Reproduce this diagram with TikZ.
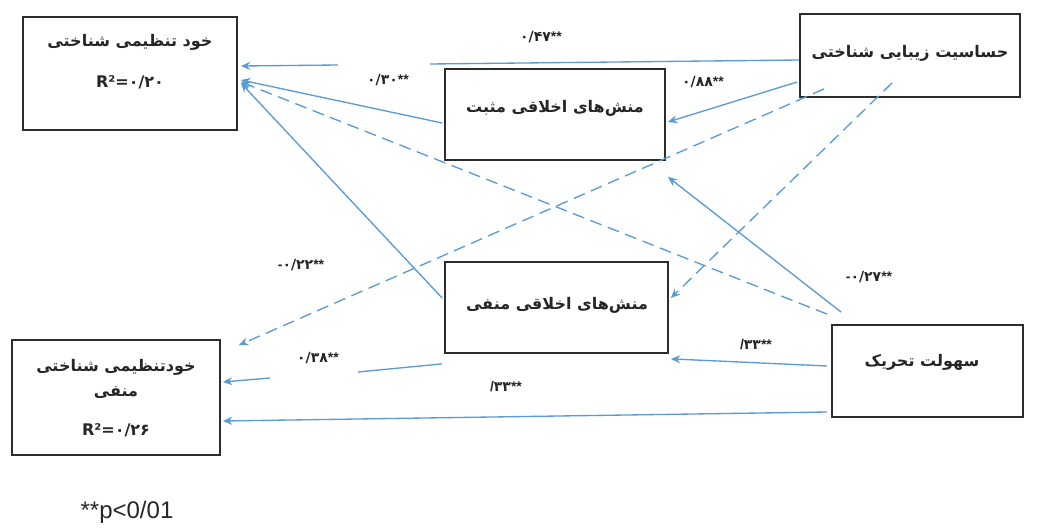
\documentclass[tikz,border=0pt]{standalone}
\usepackage{fontspec}
\setmainfont{Liberation Sans}
\newfontfamily\fa[Script=Arabic]{DejaVu Sans}
\TeXXeTstate=1
\usetikzlibrary{arrows.meta}
\definecolor{lnblue}{RGB}{91,155,213}
\definecolor{boxgray}{RGB}{45,45,45}
\newcommand{\cf}[3]{{\rmfamily\bfseries #1}{\fa #2}{\rmfamily\bfseries #3}}
\begin{document}
\begin{tikzpicture}[x=0.75pt,y=-0.75pt,
  box/.style={draw=boxgray,line width=1.3pt,inner sep=0pt},
  ftxt/.style={font=\fa\bfseries\fontsize{12}{14}\selectfont,inner sep=0pt,text=black!85},
  coef/.style={font=\bfseries\fontsize{10.5}{12}\selectfont,inner sep=0pt,text=black!85},
  link/.style={draw=lnblue,line width=1pt,-{Stealth[length=7pt,width=6pt]}},
  plainlink/.style={draw=lnblue,line width=1pt},
  dlink/.style={link,dash pattern=on 9pt off 5pt}]
\fill[white] (0,0) rectangle (1040,529);
\useasboundingbox (0,0) rectangle (1040,529);

% boxes
\node[box,minimum width=160.5pt,minimum height=84.75pt] (A) at (130,73.5) {};
\node[box,minimum width=165pt,minimum height=68.25pt] (B) at (555,114.5) {};
\node[box,minimum width=165pt,minimum height=62.25pt] (C) at (910,55.5) {};
\node[box,minimum width=167.25pt,minimum height=68.25pt] (D) at (556.5,307.5) {};
\node[box,minimum width=156pt,minimum height=86.25pt] (E) at (116,397.5) {};
\node[box,minimum width=143.25pt,minimum height=69pt] (F) at (927.5,371) {};

% box texts
\node[ftxt] (At1) at (130,42) {\beginR خود تنظیمی شناختی\endR};
\node[ftxt] (At2) at (130,82) {R²=۰/۲۰};
\node[ftxt] (Bt) at (555,108) {\beginR منش‌های اخلاقی مثبت\endR};
\node[ftxt] (Ct) at (910,53) {\beginR حساسیت زیبایی شناختی\endR};
\node[ftxt] (Dt) at (557,305) {\beginR منش‌های اخلاقی منفی\endR};
\node[ftxt] (Et1) at (116,367) {\beginR خودتنظیمی شناختی\endR};
\node[ftxt] (Et2) at (116,392) {\beginR منفی\endR};
\node[ftxt] (Et3) at (116,430) {R²=۰/۲۶};
\node[ftxt] (Ft) at (922,362) {\beginR سهولت تحریک\endR};

% gap coordinates
\coordinate (g1) at (430,64);
\coordinate (g2) at (338,65);
\coordinate (g3) at (358,372);
\coordinate (g4) at (270,378);

% connectors
\draw[plainlink] ([shift={(0,4.5)}]C.west) -- (g1);
\draw[link] (g2) -- ([shift={(3,-7.5)}]A.east);
\draw[link] ([shift={(-2,26.5)}]C.west) -- ([shift={(2,7.5)}]B.east);
\draw[dlink] ([shift={(25,-9)}]C.south west) -- ([shift={(18,6)}]E.north east);
\draw[dlink] ([shift={(93,-15)}]C.south west) -- ([shift={(2,-9.5)}]D.east);
\draw[dlink] ([shift={(-4,-10)}]F.north west) -- ([shift={(3,8.5)}]A.east);
\draw[link] ([shift={(10,-12)}]F.north west) -- ([shift={(2,16)}]B.south east);
\draw[link] ([shift={(-2,8.5)}]B.west) -- ([shift={(3,6.5)}]A.east);
\draw[link] ([shift={(-2,-9.5)}]D.west) -- ([shift={(3,9.5)}]A.east);
\draw[plainlink] ([shift={(-2,10)}]D.south west) -- (g3);
\draw[link] (g4) -- ([shift={(2,-15.5)}]E.east);
\draw[link] ([shift={(-4,-5)}]F.west) -- ([shift={(2,5)}]D.south east);
\draw[link] ([shift={(-4,41)}]F.west) -- ([shift={(2,23.5)}]E.east);

% coefficients
\node[coef] (k1) at (541,37) {\cf{}{۰/۴۷}{**}};
\node[coef] (k2) at (388,80) {\cf{}{۰/۳۰}{**}};
\node[coef] (k3) at (703,82) {\cf{}{۰/۸۸}{**}};
\node[coef] (k4) at (301,265) {\cf{-}{۰/۲۲}{**}};
\node[coef] (k5) at (318,358) {\cf{}{۰/۳۸}{**}};
\node[coef] (k6) at (869,277) {\cf{-}{۰/۲۷}{**}};
\node[coef] (k7) at (756,345) {\cf{/}{۳۳}{**}};
\node[coef] (k8) at (506,387) {\cf{/}{۳۳}{**}};

% note
\node[font=\fontsize{18}{20}\selectfont,text=black!85,inner sep=0pt] (note) at (127,512) {**p<0/01};
\end{tikzpicture}
\end{document}
